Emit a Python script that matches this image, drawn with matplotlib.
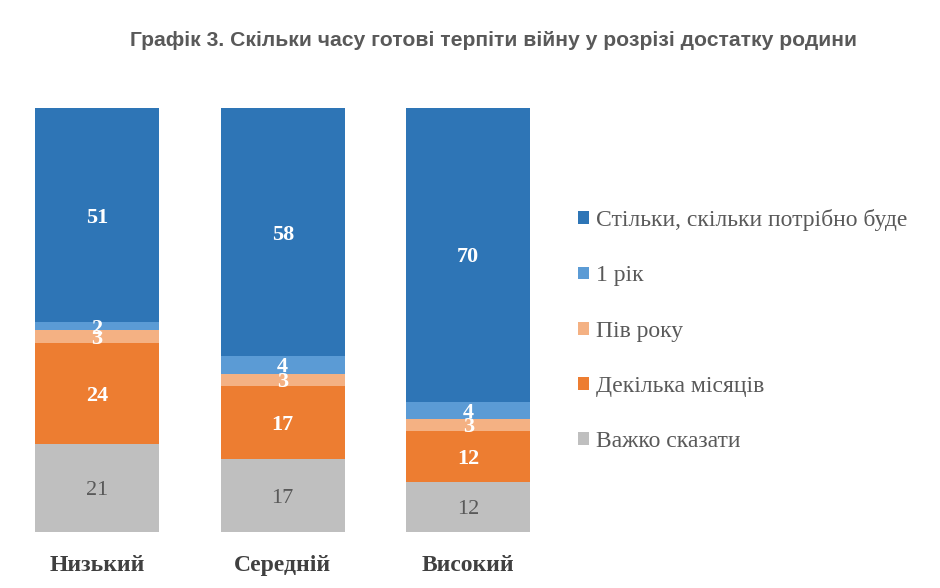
import matplotlib
matplotlib.use("Agg")
import matplotlib.pyplot as plt
from matplotlib.patches import Patch
import numpy as np

categories = ["Низький", "Середній", "Високий"]
series_names = ["Важко сказати", "Декілька місяців", "Пів року", "1 рік",
                "Стільки, скільки потрібно буде"]
hard_to_say = [21, 17, 12]
few_months = [24, 17, 12]
half_year = [3, 3, 3]
one_year = [2, 4, 4]
as_long = [51, 58, 70]

colors = ["#BFBFBF", "#ED7D31", "#F4B183", "#5B9BD5", "#2E75B6"]
label_colors = ["#595959", "white", "white", "white", "white"]
label_weights = ["normal", "bold", "bold", "bold", "bold"]

title = "Графік 3. Скільки часу готові терпіти війну у розрізі достатку родини"

data = np.array([hard_to_say, few_months, half_year, one_year, as_long], dtype=float)
totals = data.sum(axis=0)
shares = data / totals * 100

fig = plt.figure(figsize=(9.4, 5.88), dpi=100)
ax = fig.add_axes([4.4 / 940, (588 - 532) / 588, (561 - 4.4) / 940, (532 - 108) / 588])

x = np.arange(len(categories))
width = 0.67
bottom = np.zeros(len(categories))
for i in range(len(series_names)):
    ax.bar(x, shares[i], width, bottom=bottom, color=colors[i], edgecolor="none")
    for j in range(len(categories)):
        cy = bottom[j] + shares[i][j] / 2
        ax.text(x[j], cy, f"{int(data[i][j])}", ha="center", va="center_baseline",
                color=label_colors[i], fontweight=label_weights[i],
                fontsize=16, family="Liberation Serif")
    bottom += shares[i]

ax.set_xlim(-0.5, 2.5)
ax.set_ylim(0, 100)
ax.axis("off")

for j, c in enumerate(categories):
    ax.text(x[j], -7.8, c, ha="center", va="center", fontsize=17, fontweight="bold",
            color="#404040", family="Liberation Serif", clip_on=False)

fig.text(493 / 940, 1 - 40 / 588, title, ha="center", va="center", fontsize=15.2,
         fontweight="bold", color="#595959", family="Liberation Sans")

handles = [Patch(facecolor=colors[i], edgecolor="none") for i in range(len(series_names))][::-1]
labels = series_names[::-1]
leg = fig.legend(handles, labels, loc="upper left", bbox_to_anchor=(557 / 940, 1 - 188 / 588),
                 frameon=False, handlelength=0.45, handleheight=0.45, handletextpad=0.3,
                 labelspacing=1.45, prop={"family": "Liberation Serif", "size": 17})
for t in leg.get_texts():
    t.set_color("#595959")

fig.savefig("out.png", dpi=100)
